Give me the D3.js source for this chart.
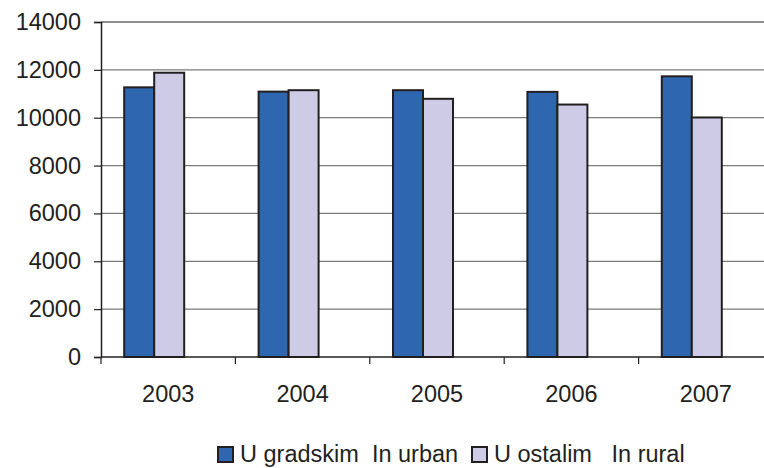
<!DOCTYPE html>
<html lang="en">
<head>
<script src="https://d3js.org/d3.v7.min.js"></script>
<style>
body { margin: 0; background: #fff; }
text { font-family: "Liberation Sans", Arial, sans-serif; fill: #231f20; }
</style>
</head>
<body>
<svg width="764" height="468"></svg>
<script>
var years = ["2003", "2004", "2005", "2006", "2007"];
var urban = [11270, 11090, 11150, 11080, 11730];
var rural = [11880, 11150, 10790, 10550, 10010];
var yTicks = [0, 2000, 4000, 6000, 8000, 10000, 12000, 14000];
var seriesNames = ["U gradskim  In urban", "U ostalim   In rural"];
var colors = ["#2e66b0", "#cdcbe6"];

var svg = d3.select("svg");
var plotLeft = 101, plotTop = 22, plotBottom = 357, plotRight = 773;
var fontSize = 23.5;

var x = d3.scaleBand().domain(years).range([plotLeft, plotRight]);
var y = d3.scaleLinear().domain([0, 14000]).range([plotBottom, plotTop]);
var barW = 30;
var shift = -14; // bars sit a bit left of the label centre

// gridlines
svg.append("g").selectAll("line")
  .data(yTicks.slice(1))
  .enter().append("line")
  .attr("x1", plotLeft).attr("x2", 764)
  .attr("y1", function(d) { return y(d); })
  .attr("y2", function(d) { return y(d); })
  .attr("stroke", function(d) { return d == 14000 ? "#231f20" : "#7a7a7a"; })
  .attr("stroke-width", 1.2);

// bars
var groups = [urban, rural];
groups.forEach(function(vals, s) {
  svg.append("g").selectAll("rect")
    .data(vals)
    .enter().append("rect")
    .attr("x", function(d, i) { return x(years[i]) + x.bandwidth() / 2 + shift - barW + s * barW; })
    .attr("y", function(d) { return y(d); })
    .attr("width", barW)
    .attr("height", function(d) { return plotBottom - y(d); })
    .attr("fill", colors[s])
    .attr("stroke", "#231f20")
    .attr("stroke-width", 2);
});

// y axis
var yAxis = svg.append("g")
  .attr("transform", "translate(" + plotLeft + ",0)")
  .call(d3.axisLeft(y).tickValues(yTicks).tickFormat(d3.format("d")).tickSize(7).tickPadding(13));
yAxis.select(".domain").attr("stroke", "#231f20").attr("stroke-width", 1.5);
yAxis.selectAll(".tick line").attr("stroke", "#231f20").attr("stroke-width", 1.2);
yAxis.selectAll("text").attr("font-size", fontSize).attr("font-family", "Liberation Sans, Arial, sans-serif").attr("fill", "#231f20");

// x axis
var xAxis = svg.append("g")
  .attr("transform", "translate(0," + plotBottom + ")")
  .call(d3.axisBottom(x).tickSize(0).tickPadding(28));
xAxis.select(".domain").attr("stroke", "#231f20").attr("stroke-width", 1.5).attr("d", "M" + plotLeft + ",0H764");
xAxis.selectAll("text").attr("font-size", fontSize).attr("font-family", "Liberation Sans, Arial, sans-serif").attr("fill", "#231f20");
svg.append("g").selectAll("line")
  .data(years)
  .enter().append("line")
  .attr("x1", function(d) { return x(d); })
  .attr("x2", function(d) { return x(d); })
  .attr("y1", plotBottom).attr("y2", plotBottom + 7)
  .attr("stroke", "#231f20").attr("stroke-width", 1.2);

// legend
var legX = [218, 472];
var leg = svg.append("g");
seriesNames.forEach(function(name, i) {
  leg.append("rect")
    .attr("x", legX[i]).attr("y", 447)
    .attr("width", 15).attr("height", 15)
    .attr("fill", colors[i]).attr("stroke", "#231f20").attr("stroke-width", 2);
  leg.append("text")
    .attr("x", legX[i] + 22).attr("y", 462)
    .attr("font-size", fontSize)
    .style("white-space", "pre")
    .text(name);
});
</script>
</body>
</html>
